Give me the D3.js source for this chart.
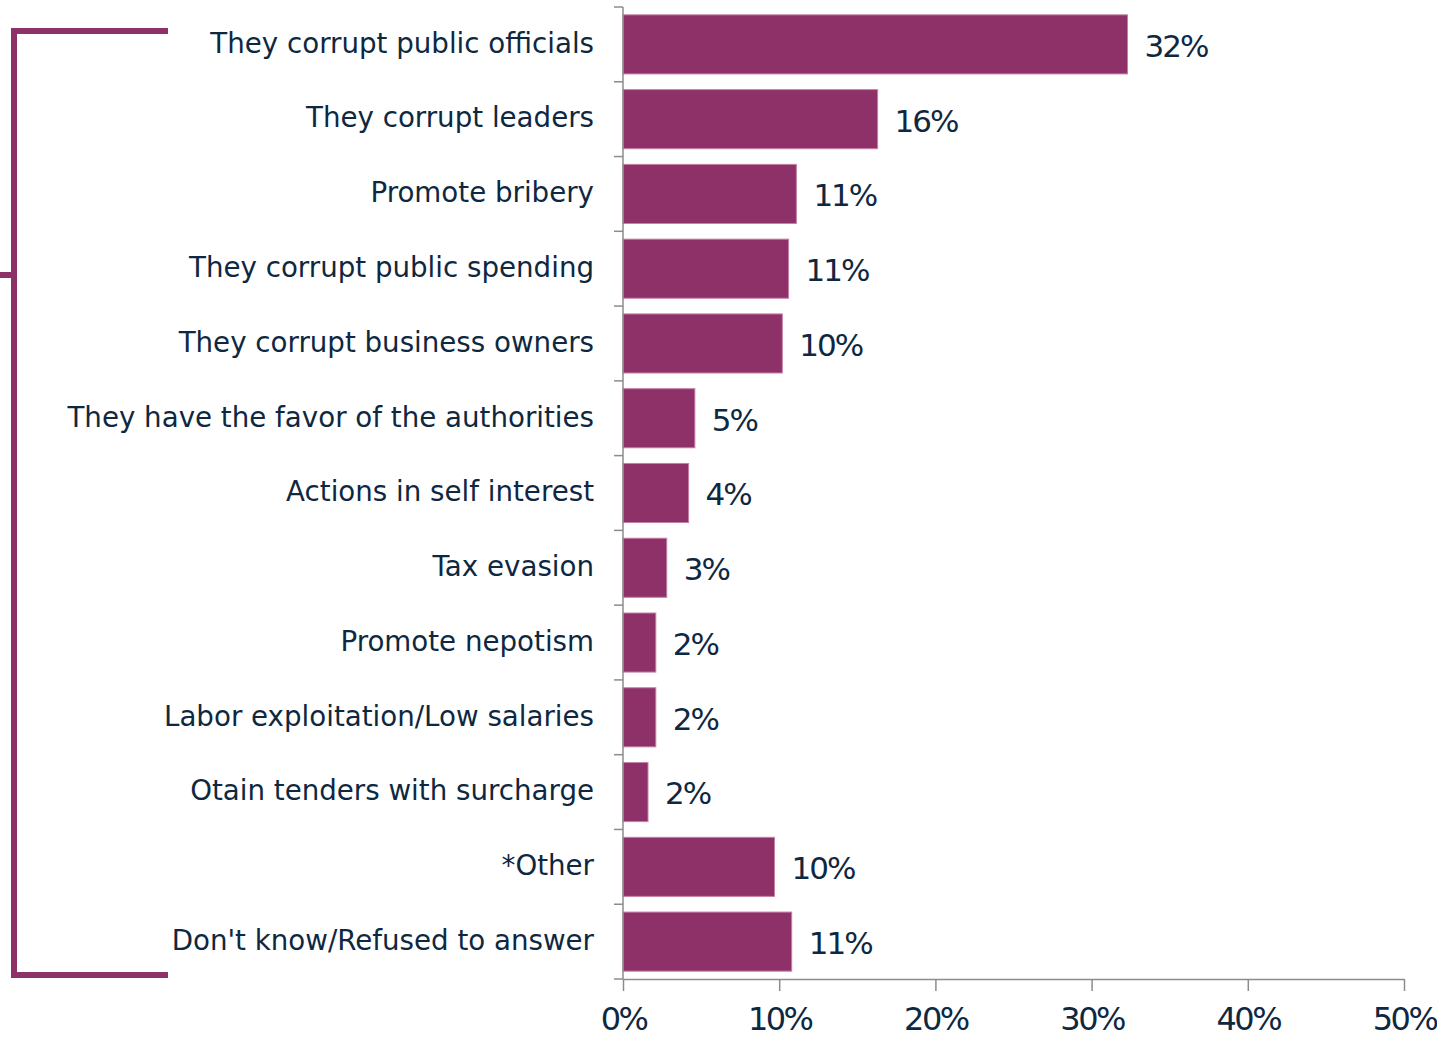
<!DOCTYPE html>
<html>
<head>
<meta charset="utf-8">
<script src="https://cdn.jsdelivr.net/npm/d3@7"></script>
<style>
  body { margin: 0; background: #fff; }
  text { font-family: "DejaVu Sans", sans-serif; fill: #0E2841; }
</style>
</head>
<body>
<div id="chart"></div>
<script>
// categories top to bottom
const categories = [
  "They corrupt public officials",
  "They corrupt leaders",
  "Promote bribery",
  "They corrupt public spending",
  "They corrupt business owners",
  "They have the favor of the authorities",
  "Actions in self interest",
  "Tax evasion",
  "Promote nepotism",
  "Labor exploitation/Low salaries",
  "Otain tenders with surcharge",
  "*Other",
  "Don't know/Refused to answer"
];
const values = [32.3, 16.3, 11.1, 10.6, 10.2, 4.6, 4.2, 2.8, 2.1, 2.1, 1.6, 9.7, 10.8];
const valueLabels = ["32%", "16%", "11%", "11%", "10%", "5%", "4%", "3%", "2%", "2%", "2%", "10%", "11%"];
const xTicks = [0, 10, 20, 30, 40, 50];

const width = 1437, height = 1045;
const margin = { top: 7, right: 33, bottom: 66, left: 623 };
const barColor = "#8E3169";

const svg = d3.select("#chart")
  .append("svg")
  .attr("width", width)
  .attr("height", height);

const x = d3.scaleLinear()
  .domain([0, 50])
  .range([margin.left, width - margin.right]);

const y = d3.scaleBand()
  .domain(categories)
  .range([margin.top, height - margin.bottom])
  .paddingInner(0.21)
  .paddingOuter(0.105);

// bars
svg.selectAll(".bar")
  .data(categories)
  .enter().append("rect")
  .attr("class", "bar")
  .attr("x", x(0))
  .attr("y", d => y(d))
  .attr("width", (d, i) => x(values[i]) - x(0))
  .attr("height", y.bandwidth())
  .attr("fill", barColor)
  .attr("stroke", "#C47FA5")
  .attr("stroke-width", 1);

// value labels
svg.selectAll(".val")
  .data(categories)
  .enter().append("text")
  .attr("class", "val")
  .attr("x", (d, i) => x(values[i]) + 17)
  .attr("y", d => y(d) + y.bandwidth() / 2)
  .attr("dy", "0.4em")
  .style("font-size", "31px")
  .style("letter-spacing", "-2px")
  .text((d, i) => valueLabels[i]);

// category labels
svg.selectAll(".cat")
  .data(categories)
  .enter().append("text")
  .attr("class", "cat")
  .attr("x", 594)
  .attr("y", d => y(d) + y.bandwidth() / 2)
  .attr("dy", "0.3em")
  .attr("text-anchor", "end")
  .style("font-size", "27.7px")
  .text(d => d);

// y axis line + ticks at band edges
const axisColor = "#8C8C8C";
const yBottom = height - margin.bottom;
svg.append("line")
  .attr("x1", x(0)).attr("x2", x(0))
  .attr("y1", margin.top).attr("y2", yBottom)
  .attr("stroke", axisColor).attr("stroke-width", 1.5);

const step = y.step();
const edges = d3.range(categories.length + 1).map(i => margin.top + i * step);
svg.selectAll(".ytick")
  .data(edges)
  .enter().append("line")
  .attr("x1", x(0) - 9).attr("x2", x(0))
  .attr("y1", d => d).attr("y2", d => d)
  .attr("stroke", axisColor).attr("stroke-width", 1.5);

// x axis
const xAxis = svg.append("g")
  .attr("transform", `translate(0,${yBottom})`)
  .call(d3.axisBottom(x).tickValues(xTicks).tickSize(12).tickSizeOuter(0).tickFormat(d => d + "%"));
xAxis.select(".domain").attr("stroke", axisColor).attr("stroke-width", 1.5);
xAxis.selectAll(".tick line").attr("stroke", axisColor).attr("stroke-width", 1.5);
xAxis.selectAll(".tick text")
  .attr("y", 28)
  .attr("dy", "0.71em")
  .style("font-size", "32px")
  .style("letter-spacing", "-2.5px")
  .style("font-family", "'DejaVu Sans', sans-serif")
  .attr("fill", "#0E2841");

// bracket on the left
const bracket = svg.append("g")
  .attr("fill", "none")
  .attr("stroke", barColor)
  .attr("stroke-width", 6);
bracket.append("path")
  .attr("d", "M168,31 H14 V975 H168");
bracket.append("line")
  .attr("x1", 0).attr("x2", 14)
  .attr("y1", 275).attr("y2", 275);
</script>
</body>
</html>
